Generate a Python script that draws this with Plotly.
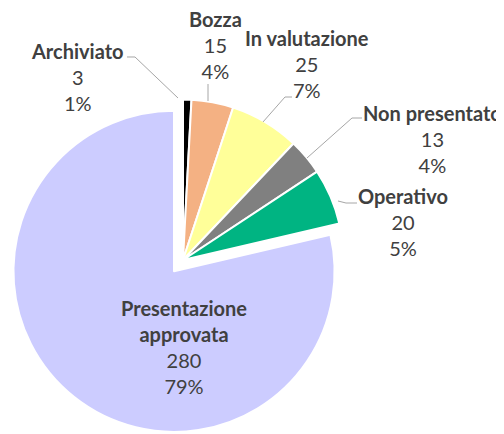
import plotly.graph_objects as go

# ---- data ----
categories = ["Archiviato", "Bozza", "In valutazione", "Non presentato", "Operativo", "Presentazione approvata"]
values = [3, 15, 25, 13, 20, 280]
percent_labels = ["1%", "4%", "7%", "4%", "5%", "79%"]
label_names = ["Archiviato", "Bozza", "In valutazione", "Non presentato", "Operativo", "Presentazione<br>approvata"]

# ---- styles / layout ----
colors = ["#000000", "#F4B183", "#FFFF99", "#808080", "#00B482", "#CCCCFF"]
PULL = 0.09
pulls = [0, 0, 0, 0, 0, PULL]
W, H = 504, 434
OFF = 8  # page body margin offset
# pie centre (page pixels)
CX, CY = 183, 260
# label block centers in page pixels (x, y)
label_pos = [(77, 77), (215, 45), (307, 64), (432, 139), (403, 222), (184, 347)]
# leader lines in page pixels
leaders = [
    [(127, 57), (135, 57), (178, 98)],
    [(208, 84), (208, 101)],
    [(292, 97), (285, 97), (263, 122)],
    [(362, 118), (352, 118), (307, 158)],
    [(357, 203), (346, 203), (338, 201)],
]
TXT = "#404040"
FONT = "Lato"
FS = 20

fx, fy = CX - OFF, CY - OFF
half_w = min(fx, W - fx)
half_h = min(H - fy, fy)
fig = go.Figure()
fig.add_trace(go.Pie(
    labels=categories,
    values=values,
    sort=False,
    direction="clockwise",
    rotation=0,
    pull=pulls,
    marker=dict(colors=colors, line=dict(color="white", width=2)),
    textinfo="none",
    hoverinfo="label+value+percent",
    showlegend=False,
    domain=dict(x=[(fx - half_w) / W, (fx + half_w) / W],
                y=[(H - fy - half_h) / H, (H - fy + half_h) / H]),
))

def px2paper(x, y):
    return (x - OFF) / W, 1 - (y - OFF) / H

for name, v, p, (lx, ly) in zip(label_names, values, percent_labels, label_pos):
    ax, ay = px2paper(lx, ly)
    fig.add_annotation(
        x=ax, y=ay, xref="paper", yref="paper",
        xanchor="center", yanchor="middle", showarrow=False,
        text=f"<b>{name}</b><br>{v}<br>{p}",
        font=dict(family=FONT, size=FS, color=TXT),
        align="center",
    )

for pts in leaders:
    path = ""
    for i, (x, y) in enumerate(pts):
        X, Y = px2paper(x, y)
        path += ("M" if i == 0 else " L") + f" {X:.5f} {Y:.5f}"
    fig.add_shape(type="path", path=path, xref="paper", yref="paper",
                  line=dict(color="#A6A6A6", width=1))

fig.update_layout(
    width=W, height=H,
    margin=dict(l=0, r=0, t=0, b=0),
    paper_bgcolor="white",
    plot_bgcolor="white",
)

fig.write_html("out.html")
